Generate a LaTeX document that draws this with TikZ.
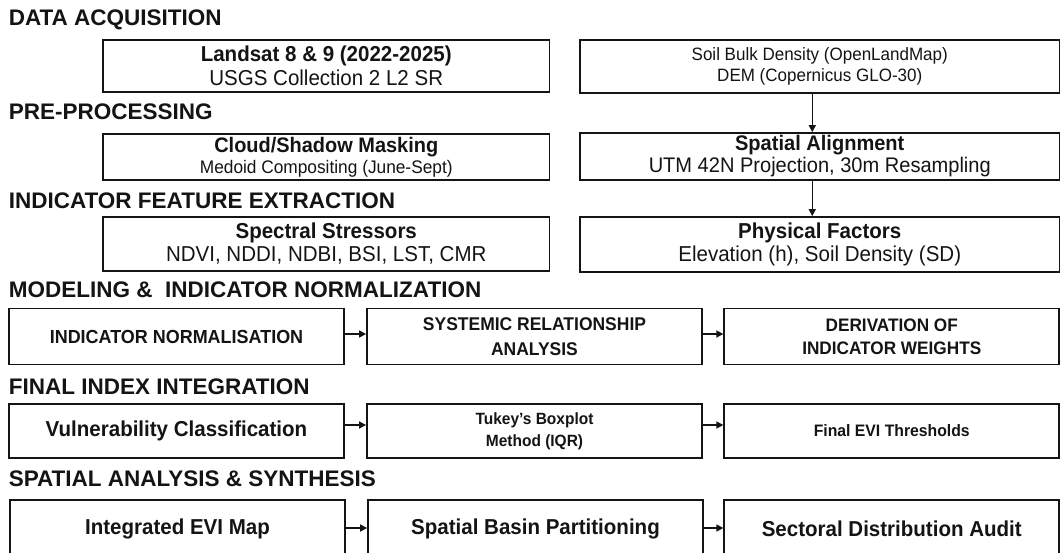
\documentclass[tikz,border=0pt]{standalone}
\usepackage{fontspec}
\setmainfont{Liberation Sans}
\newfontfamily\bxf{Liberation Sans}[FakeStretch=0.95,Ligatures=TeX]
\usetikzlibrary{arrows.meta}
\definecolor{ink}{HTML}{141414}
\newcommand{\myfs}[2]{\fontsize{#1}{#2}\selectfont}
\tikzset{
  hdr/.style={anchor=base west, inner sep=0pt, text=ink, font=\bfseries\myfs{22.5}{27}},
  box/.style={draw=ink, line width=1.8pt, fill=white, inner sep=0pt, align=center, text=ink},
  colbox/.style={box, minimum width=446.5pt},
  rcolbox/.style={box, minimum width=479.5pt},
  rowbox/.style={box, minimum width=335pt},
  arr/.style={draw=ink, line width=1.5pt, -{Triangle[length=7pt,width=7pt]}},
}
\begin{document}
\begin{tikzpicture}[x=1pt,y=-1pt]
\useasboundingbox (0,0) rectangle (1064,552);
\clip (0,0) rectangle (1064,552);
\fill[white] (0,0) rectangle (1064,552);

% headers
\node[hdr] (h1) at (8.6,25.7) {DATA ACQUISITION};
\node[hdr] (h2) at (8.6,119) {PRE-PROCESSING};
\node[hdr] (h3) at (8.6,208) {INDICATOR FEATURE EXTRACTION};
\node[hdr] (h4) at (8.6,297.6) {MODELING \& \ INDICATOR NORMALIZATION};
\node[hdr] (h5) at (8.6,394) {FINAL INDEX INTEGRATION};
\node[hdr] (h6) at (8.6,486) {SPATIAL ANALYSIS \& SYNTHESIS};

% data acquisition
\node[colbox, minimum height=52pt, font=\bxf\myfs{21.6}{24}] (l1) at (326.25,66)
  {\textbf{Landsat 8 \& 9 (2022-2025)}\\USGS Collection 2 L2 SR};
\node[rcolbox, minimum height=53pt, font=\bxf\myfs{17.9}{21}] (r1) at (819.75,66.5)
  {Soil Bulk Density (OpenLandMap)\\DEM (Copernicus GLO-30)};

% pre-processing
\node[colbox, minimum height=46pt, font=\bxf\myfs{18.2}{21}] (l2) at (326.25,157)
  {{\bfseries\myfs{21}{21}Cloud/Shadow Masking}\\Medoid Compositing (June-Sept)};
\node[rcolbox, minimum height=47pt, font=\bxf\myfs{21.1}{22}] (r2) at (819.75,156.5)
  {\textbf{Spatial Alignment}\\UTM 42N Projection, 30m Resampling};

% indicator feature extraction
\node[colbox, minimum height=54pt, font=\bxf\myfs{21.6}{23}] (l3) at (326.25,244)
  {\textbf{Spectral Stressors}\\NDVI, NDDI, NDBI, BSI, LST, CMR};
\node[rcolbox, minimum height=55pt, font=\bxf\myfs{21.6}{23}] (r3) at (819.75,244.5)
  {\textbf{Physical Factors}\\Elevation (h), Soil Density (SD)};

% modeling
\node[rowbox, minimum height=56pt, font=\bxf\bfseries\myfs{18.9}{24}] (a4) at (176.5,336.5)
  {INDICATOR NORMALISATION};
\node[rowbox, minimum height=56pt, font=\bxf\bfseries\myfs{18.4}{25}] (b4) at (534.5,336.5)
  {SYSTEMIC RELATIONSHIP\\ANALYSIS};
\node[rowbox, minimum height=56pt, font=\bxf\bfseries\myfs{18.1}{23}] (c4) at (891.75,336.5)
  {DERIVATION OF\\INDICATOR WEIGHTS};

% final index integration
\node[rowbox, minimum height=54pt, font=\bxf\bfseries\myfs{21.6}{24}] (a5) at (176.5,431)
  {Vulnerability Classification};
\node[rowbox, minimum height=54pt, font=\bxf\bfseries\myfs{16.3}{22}] (b5) at (534.5,431)
  {Tukey’s Boxplot\\Method (IQR)};
\node[rowbox, minimum height=54pt, font=\bxf\bfseries\myfs{16.6}{20}] (c5) at (891.75,431)
  {Final EVI Thresholds};

% spatial analysis
\node[rowbox, minimum height=58pt, font=\bxf\bfseries\myfs{21.6}{24}] (a6) at (177.5,529)
  {Integrated EVI Map};
\node[rowbox, minimum height=58pt, font=\bxf\bfseries\myfs{21.6}{24}] (b6) at (535.5,529)
  {Spatial Basin Partitioning};
\node[rowbox, minimum height=58pt, font=\bxf\bfseries\myfs{21.6}{24}] (c6) at (891.75,529)
  {Sectoral Distribution Audit};

% vertical arrows
\draw[arr] ([xshift=-7.5pt]r1.south) -- ([xshift=-7.5pt]r2.north);
\draw[arr] ([xshift=-7.5pt]r2.south) -- ([xshift=-7.5pt]r3.north);

% horizontal arrows
\draw[arr] ([yshift=2.5pt]a4.east) -- ([yshift=2.5pt]b4.west);
\draw[arr] ([yshift=2.5pt]b4.east) -- ([yshift=2.5pt]c4.west);
\draw[arr] ([yshift=6pt]a5.east) -- ([yshift=6pt]b5.west);
\draw[arr] ([yshift=6pt]b5.east) -- ([yshift=6pt]c5.west);
\draw[arr] ([yshift=1pt]a6.east) -- ([yshift=1pt]b6.west);
\draw[arr] ([yshift=1pt]b6.east) -- ([yshift=1pt]c6.west);
\end{tikzpicture}
\end{document}
